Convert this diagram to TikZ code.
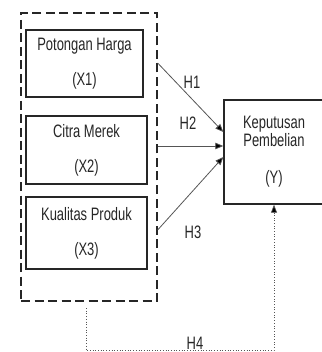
\documentclass[tikz,border=0pt]{standalone}
\usepackage{fontspec}
\setmainfont{Liberation Sans}[FakeStretch=0.72]
\usetikzlibrary{arrows.meta,positioning}

\definecolor{inkgray}{HTML}{262626}
\definecolor{linegray}{HTML}{555555}

\tikzset{
  varbox/.style={draw=inkgray, line width=1.4pt, align=center, text=inkgray,
    font=\fontsize{18}{35}\selectfont, inner sep=0pt},
  hyplab/.style={text=inkgray, font=\fontsize{18}{20}\selectfont, inner sep=0pt},
  hyparrow/.style={draw=linegray, line width=0.8pt,
    -{Triangle[length=8pt,width=6.5pt,fill=black]}},
  hypdotted/.style={draw=linegray, line width=0.7pt, dotted,
    -{Triangle[length=8pt,width=6pt,fill=black]}}
}

\begin{document}
\begin{tikzpicture}[x=1pt,y=-1pt]
\useasboundingbox (0,0) rectangle (321,352);
\fill[white] (0,0) rectangle (321,352);

% independent variables
\node[draw=inkgray, line width=1.3pt, dash pattern=on 9pt off 4.5pt,
  minimum width=136pt, minimum height=288pt] (grp) at (89,157) {};
\node[varbox, minimum width=117pt, minimum height=67pt] (x1) at (84.5,63.5) {Potongan Harga\\(X1)};
\node[varbox, minimum width=121pt, minimum height=68pt] (x2) at (86.5,150) {Citra Merek\\(X2)};
\node[varbox, minimum width=121pt, minimum height=72pt] (x3) at (86.5,233) {Kualitas Produk\\(X3)};

% dependent variable
\node[varbox, font=\fontsize{18}{18}\selectfont, minimum width=100pt, minimum height=104pt]
  (ykp) at (274,152) {Keputusan\\Pembelian\\[19pt](Y)};

% hypotheses
\draw[hyparrow] ([yshift=94pt]grp.east) -- ([yshift=20pt]ykp.west);
\draw[hyparrow] ([yshift=11pt]grp.east) -- ([yshift=6pt]ykp.west);
\draw[hyparrow] ([yshift=-73pt]grp.east) -- ([yshift=-5pt]ykp.west);
\node[hyplab] (h1) at (192,82) {H1};
\node[hyplab] (h2) at (188,123) {H2};
\node[hyplab] (h3) at (193,232) {H3};

\coordinate (dotT) at (86,308);
\coordinate (dotL) at (86,350);
\draw[hypdotted] (dotT) -- (dotL) -| (ykp.south);
\node[hyplab] (h4) at (195,343) {H4};
\end{tikzpicture}
\end{document}
